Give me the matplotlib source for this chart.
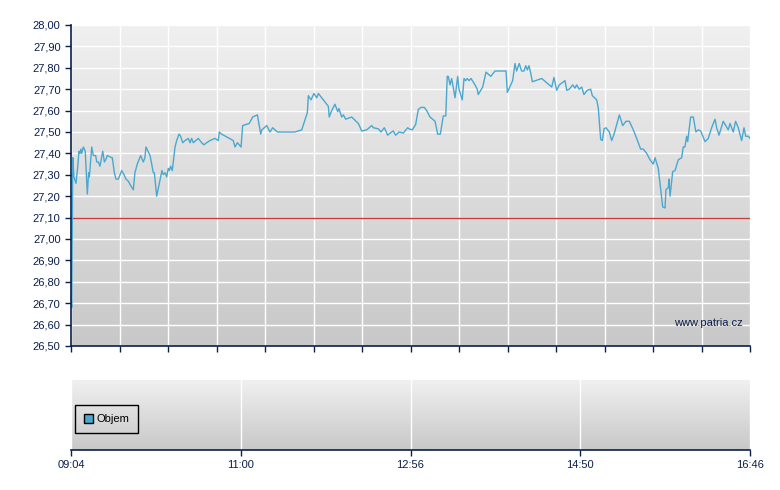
import numpy as np
import matplotlib
matplotlib.use("Agg")
import matplotlib.pyplot as plt
from matplotlib.patches import Patch
from matplotlib.colors import LinearSegmentedColormap

# minutes after 09:04
minutes = [0, 0.5, 1.2, 2.0, 3.4, 4.6, 5.4, 6.1, 6.8, 7.3, 8.4, 9.7, 11.1, 12.0, 12.5, 14.1,
           15.2, 16.8, 17.5, 18.6, 19.7, 21.6, 22.7, 23.6, 24.7, 27.7, 28.1, 29.5, 30.6, 32.2,
           34.5, 36.1, 37.4, 39.0, 40.6, 42.4, 43.5, 45.1, 47.4, 49.2, 50.3, 51.0, 53.8, 56.0,
           56.7, 58.3, 60.1, 61.9, 62.8, 64.0, 65.1, 66.2, 66.9, 67.8, 68.9, 70.8, 71.9, 73.5,
           74.6, 76.0, 77.6, 79.8, 81.0, 82.1, 83.2, 86.6, 88.9, 90.5, 92.3, 94.6, 98.0, 100.2,
           100.9, 102.5, 110.4, 111.6, 113.2, 115.7, 116.8, 121.3, 123.6, 126.8, 129.1, 129.8,
           133.2, 135.4, 137.2, 140.4, 152.4, 157.0, 160.8, 161.5, 163.3, 165.3, 167.2, 168.3,
           172.8, 175.1, 175.7, 177.4, 179.6, 181.5, 182.3, 184.2, 185.3, 186.9, 191.0, 195.5,
           197.8, 201.2, 204.6, 205.7, 209.1, 210.9, 213.2, 215.5, 217.1, 219.3, 220.9, 223.2,
           226.1, 229.1, 230.0, 232.2, 234.5, 236.3, 238.1, 240.4, 242.0, 244.3, 247.7, 249.5,
           251.3, 253.3, 255.0, 256.0, 256.7, 257.9, 259.0, 261.3, 263.1, 264.0, 266.2, 267.4,
           268.5, 269.6, 270.8, 272.2, 274.9, 276.4, 277.1, 280.1, 282.4, 285.6, 288.5, 296.0,
           296.9, 300.5, 302.1, 303.2, 305.0, 306.6, 308.2, 309.4, 310.5, 311.6, 312.8, 313.9,
           320.3, 327.1, 328.6, 330.5, 332.2, 336.1, 337.3, 339.0, 341.4, 342.9, 344.1, 345.8,
           347.5, 349.0, 351.3, 353.6, 354.7, 357.7, 358.8, 360.4, 361.5, 362.7, 364.0, 366.3,
           367.9, 369.5, 373.1, 375.4, 377.6, 379.9, 382.6, 384.9, 387.6, 389.4, 391.7, 394.0,
           396.2, 397.4, 399.6, 401.2, 402.6, 404.2, 404.8, 406.4, 406.9, 407.6, 409.4, 411.0,
           413.2, 415.5, 416.6, 417.7, 418.9, 419.6, 421.6, 423.4, 425.2, 426.8, 428.4, 431.4,
           433.6, 435.9, 438.2, 439.3, 440.9, 443.8, 447.2, 448.4, 450.6, 452.2, 454.0, 456.3,
           457.9, 459.1, 460.9, 462.0]
prices = [26.74, 26.68, 27.38, 27.29, 27.26, 27.34, 27.41, 27.40, 27.42, 27.40, 27.43, 27.41,
          27.21, 27.31, 27.29, 27.43, 27.39, 27.39, 27.36, 27.36, 27.34, 27.41, 27.36, 27.37,
          27.39, 27.38, 27.38, 27.31, 27.28, 27.28, 27.32, 27.30, 27.28, 27.27, 27.25, 27.23,
          27.31, 27.35, 27.39, 27.36, 27.38, 27.43, 27.39, 27.31, 27.31, 27.20, 27.26, 27.32,
          27.30, 27.31, 27.29, 27.33, 27.32, 27.34, 27.32, 27.43, 27.46, 27.49, 27.48, 27.45,
          27.46, 27.47, 27.45, 27.47, 27.45, 27.47, 27.45, 27.44, 27.45, 27.46, 27.47, 27.46,
          27.50, 27.49, 27.46, 27.43, 27.45, 27.43, 27.53, 27.54, 27.57, 27.58, 27.49, 27.51,
          27.53, 27.50, 27.52, 27.50, 27.50, 27.51, 27.59, 27.67, 27.65, 27.68, 27.66, 27.68,
          27.64, 27.62, 27.57, 27.60, 27.63, 27.595, 27.61, 27.57, 27.58, 27.56, 27.57, 27.54,
          27.505, 27.51, 27.53, 27.52, 27.515, 27.50, 27.52, 27.485, 27.495, 27.505, 27.485, 27.50,
          27.495, 27.52, 27.515, 27.51, 27.535, 27.605, 27.615, 27.615, 27.60, 27.57, 27.55, 27.49,
          27.49, 27.575, 27.575, 27.76, 27.76, 27.72, 27.75, 27.66, 27.76, 27.70, 27.65, 27.75,
          27.74, 27.75, 27.74, 27.75, 27.72, 27.70, 27.675, 27.71, 27.78, 27.76, 27.785, 27.785,
          27.685, 27.74, 27.82, 27.785, 27.82, 27.785, 27.785, 27.81, 27.79, 27.81, 27.775, 27.735,
          27.75, 27.71, 27.755, 27.695, 27.72, 27.74, 27.695, 27.70, 27.72, 27.705, 27.72, 27.70,
          27.71, 27.675, 27.695, 27.70, 27.67, 27.65, 27.61, 27.465, 27.46, 27.515, 27.52, 27.50,
          27.46, 27.49, 27.58, 27.53, 27.55, 27.55, 27.51, 27.47, 27.42, 27.42, 27.40, 27.37,
          27.35, 27.38, 27.33, 27.235, 27.15, 27.145, 27.23, 27.24, 27.28, 27.20, 27.315, 27.32,
          27.37, 27.38, 27.43, 27.43, 27.48, 27.455, 27.57, 27.57, 27.50, 27.51, 27.505, 27.455,
          27.47, 27.52, 27.56, 27.52, 27.485, 27.55, 27.51, 27.54, 27.50, 27.55, 27.52, 27.46,
          27.52, 27.48, 27.48, 27.47]

reference_price = 27.10
y_ticks = [26.5, 26.6, 26.7, 26.8, 26.9, 27.0, 27.1, 27.2, 27.3, 27.4, 27.5, 27.6, 27.7, 27.8, 27.9, 28.0]
y_labels = ["26,50", "26,60", "26,70", "26,80", "26,90", "27,00", "27,10", "27,20", "27,30",
            "27,40", "27,50", "27,60", "27,70", "27,80", "27,90", "28,00"]
main_x_ticks = list(range(0, 463, 33))
time_ticks = [0, 115.5, 231, 346.5, 462]
time_labels = ["09:04", "11:00", "12:56", "14:50", "16:46"]
legend_label = "Objem"
watermark = "www.patria.cz"

NAVY = "#0b1f4b"
LINE = "#4aa8d0"
plt.rcParams['font.family'] = ['Liberation Sans', 'DejaVu Sans']

fig = plt.figure(figsize=(7.8, 4.9), dpi=100)
ax = fig.add_axes([71/780, 1-346/490, 679/780, 321/490])
ax2 = fig.add_axes([71/780, 1-450/490, 679/780, 70/490])

grad = np.linspace(0, 1, 256).reshape(-1, 1)
cmap = LinearSegmentedColormap.from_list("bg", ["#f0f0f0", "#c8c8c8"])

for a in (ax, ax2):
    a.imshow(grad, aspect='auto', cmap=cmap, extent=[0, 1, 0, 1],
             transform=a.transAxes, zorder=0, interpolation='bicubic')
    for s in ("top", "right"):
        a.spines[s].set_visible(False)
    a.spines["bottom"].set_color(NAVY)
    a.spines["left"].set_color(NAVY)
    a.spines["bottom"].set_linewidth(1.2)
    a.spines["left"].set_linewidth(1.2)
    a.spines["bottom"].set_zorder(5)
    a.spines["left"].set_zorder(5)
    a.tick_params(colors=NAVY, direction='out', length=4, width=1, labelsize=8)

# main panel
ax.set_xlim(0, 462)
ax.set_ylim(26.5, 28.0)
ax.set_yticks(y_ticks)
ax.set_yticklabels(y_labels)
ax.set_xticks(main_x_ticks)
ax.set_xticklabels([])
ax.grid(True, color='white', linewidth=1.0)
for gl in ax.get_xgridlines() + ax.get_ygridlines():
    gl.set_zorder(1)
ax.axhline(reference_price, color='#c83c3c', linewidth=1, zorder=3)
ax.plot(minutes, prices, color=LINE, linewidth=1.0, zorder=4)
ax.text(0.99, 0.072, watermark, transform=ax.transAxes, ha='right', va='center',
        color=NAVY, fontsize=8, zorder=4)

# volume panel
ax2.set_xlim(0, 462)
ax2.set_ylim(0, 1)
ax2.set_yticks([])
ax2.spines["left"].set_visible(False)
ax2.set_xticks(time_ticks)
ax2.set_xticklabels(time_labels)
ax2.grid(True, axis='x', color='white', linewidth=1.0)
for gl in ax2.get_xgridlines():
    gl.set_zorder(1)
leg = ax2.legend(handles=[Patch(facecolor=LINE, edgecolor='black', label=legend_label)],
                 loc='center left', bbox_to_anchor=(0.006, 0.44), fancybox=False,
                 edgecolor='black', facecolor='none', fontsize=8, handlelength=0.8,
                 handleheight=0.8, handletextpad=0.3, borderpad=0.8, borderaxespad=0)
leg.get_frame().set_linewidth(1)
leg.get_frame().set_alpha(None)
leg.set_zorder(6)

fig.savefig("out.png", dpi=100)
